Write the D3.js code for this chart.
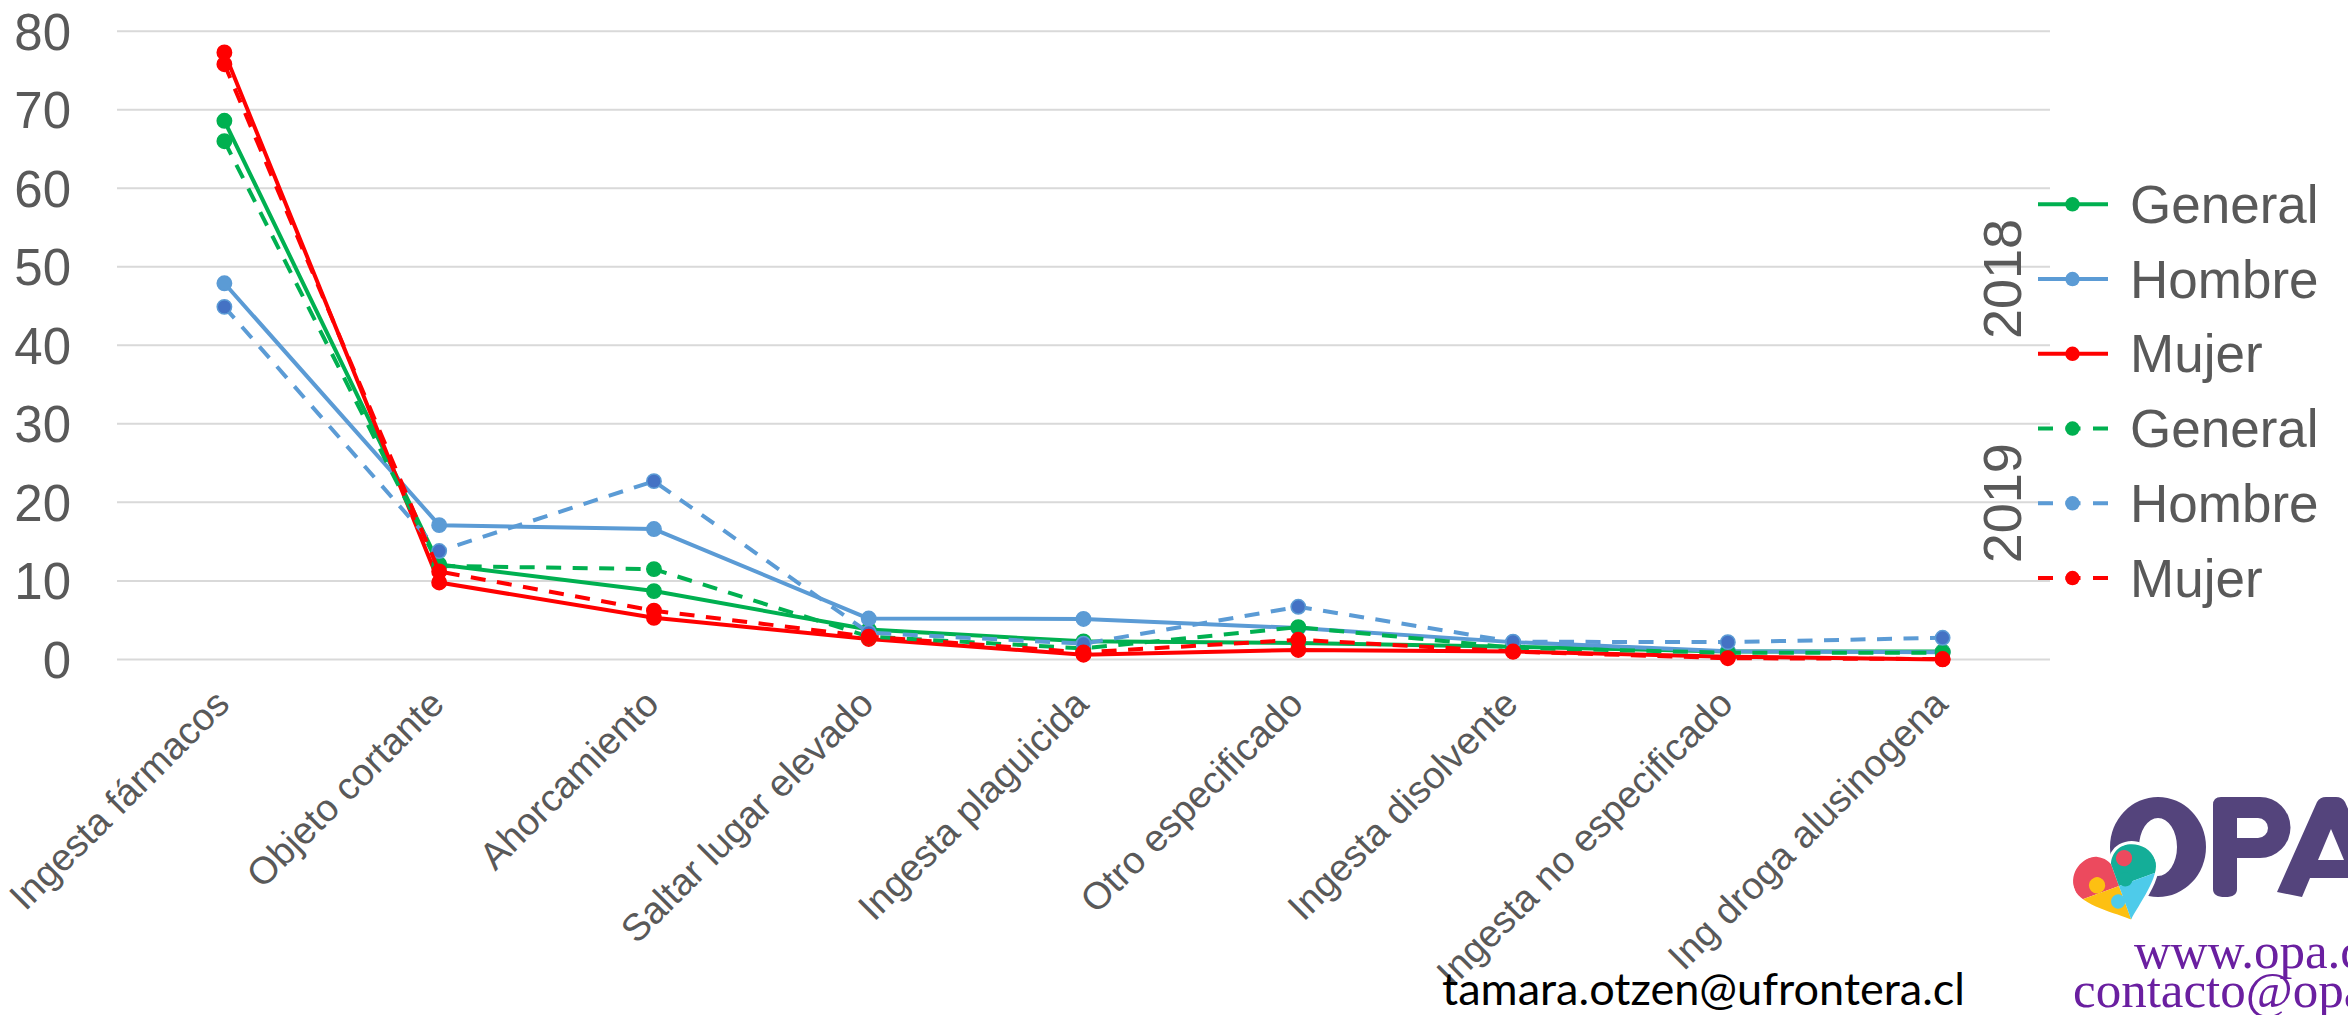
<!DOCTYPE html>
<html>
<head>
<meta charset="utf-8">
<script src="https://cdnjs.cloudflare.com/ajax/libs/d3/7.8.5/d3.min.js"></script>
<style>
  html, body { margin: 0; padding: 0; background: #ffffff; }
  svg { display: block; }
</style>
</head>
<body>
<div id="chart"></div>
<script>
// ---------------- DATA ----------------
const categories = [
  "Ingesta fármacos", "Objeto cortante", "Ahorcamiento", "Saltar lugar elevado",
  "Ingesta plaguicida", "Otro especificado", "Ingesta disolvente",
  "Ingesta no especificado", "Ing droga alusinogena"
];
const general2018 = [68.6, 12.1, 8.7, 3.8, 2.3, 2.1, 1.6, 1.0, 1.0];
const hombre2018  = [47.9, 17.1, 16.6, 5.2, 5.15, 4.0, 2.2, 1.05, 0.9];
const mujer2018   = [77.3, 9.8, 5.3, 2.6, 0.6, 1.2, 1.0, 0.35, 0.0];
const general2019 = [66.0, 11.9, 11.5, 2.9, 1.4, 4.1, 1.5, 0.85, 0.85];
const hombre2019  = [44.9, 13.8, 22.7, 3.4, 2.0, 6.7, 2.25, 2.2, 2.75];
const mujer2019   = [75.8, 11.2, 6.2, 2.9, 0.9, 2.5, 1.0, 0.15, 0.05];
const yTicks = [0, 10, 20, 30, 40, 50, 60, 70, 80];
const years = ["2018", "2019"];
const emailText = "tamara.otzen@ufrontera.cl";
const webText = "www.opa.cl";
const contactText = "contacto@opa.cl";

const colorGeneral = "#00B050", colorHombre = "#5B9BD5", colorMujer = "#FF0000";
const series = [
  { name: "General", year: "2018", values: general2018, color: colorGeneral, dashed: false },
  { name: "Hombre",  year: "2018", values: hombre2018,  color: colorHombre,  dashed: false },
  { name: "Mujer",   year: "2018", values: mujer2018,   color: colorMujer,   dashed: false },
  { name: "General", year: "2019", values: general2019, color: colorGeneral, dashed: true },
  { name: "Hombre",  year: "2019", values: hombre2019,  color: colorHombre,  dashed: true, markerFill: "#4472C4" },
  { name: "Mujer",   year: "2019", values: mujer2019,   color: colorMujer,   dashed: true }
];

// ---------------- LAYOUT ----------------
const W = 2348, H = 1015;
const svg = d3.select("#chart").append("svg").attr("width", W).attr("height", H);
svg.append("rect").attr("width", W).attr("height", H).attr("fill", "#ffffff");

const x = d3.scaleBand().domain(categories).range([117, 2050]).padding(0);
const y = d3.scaleLinear().domain([0, 80]).range([659.4, 31.25]);
const cx = c => x(c) + x.bandwidth() / 2;

const FONT = "'Liberation Sans', Arial, sans-serif";
const TXT = "#595959";

// gridlines
svg.append("g").selectAll("line").data(yTicks).join("line")
  .attr("x1", 117).attr("x2", 2050)
  .attr("y1", d => y(d)).attr("y2", d => y(d))
  .attr("stroke", "#D9D9D9").attr("stroke-width", 2);

// y axis labels
const yAxis = d3.axisLeft(y).tickValues(yTicks).tickSize(0).tickPadding(0);
const yg = svg.append("g").attr("transform", "translate(71,0)").call(yAxis);
yg.select(".domain").remove();
yg.selectAll("text").attr("font-family", FONT).attr("font-size", 51).attr("fill", TXT)
  .attr("dy", "0.35em").attr("text-anchor", "end").attr("x", 0);

// x labels
svg.append("g").selectAll("text").data(categories).join("text")
  .attr("transform", d => `translate(${cx(d) + 7},706) rotate(-45)`)
  .attr("text-anchor", "end")
  .attr("font-family", FONT).attr("font-size", 38).attr("fill", TXT)
  .text(d => d);

// lines
const line = d3.line().x((v, i) => cx(categories[i])).y(v => y(v));
const plot = svg.append("g");
series.forEach(s => {
  const g = plot.append("g");
  g.append("path").datum(s.values)
    .attr("d", line).attr("fill", "none")
    .attr("stroke", s.color).attr("stroke-width", 4)
    .attr("stroke-linejoin", "round")
    .attr("stroke-dasharray", s.dashed ? "15,11.5" : null);
  g.selectAll("circle").data(s.values).join("circle")
    .attr("cx", (v, i) => cx(categories[i])).attr("cy", v => y(v))
    .attr("r", 7.2).attr("fill", s.markerFill || s.color)
    .attr("stroke", s.color).attr("stroke-width", 1.5);
});

// legend
const legY0 = 204.3, legStep = 74.75;
const leg = svg.append("g");
series.forEach((s, i) => {
  const ly = legY0 + i * legStep;
  leg.append("line").attr("x1", 2038).attr("x2", 2108).attr("y1", ly).attr("y2", ly)
    .attr("stroke", s.color).attr("stroke-width", 4)
    .attr("stroke-dasharray", s.dashed ? "15,12.5" : null);
  leg.append("circle").attr("cx", 2072.5).attr("cy", ly).attr("r", 7.2).attr("fill", s.color);
  leg.append("text").attr("x", 2130).attr("y", ly).attr("dy", "0.35em")
    .attr("font-family", FONT).attr("font-size", 53).attr("fill", TXT).text(s.name);
});
years.forEach((yr, i) => {
  const cy = legY0 + (i * 3 + 1) * legStep;
  leg.append("text").attr("transform", `translate(2002,${cy}) rotate(-90)`)
    .attr("text-anchor", "middle").attr("dy", "0.35em")
    .attr("font-family", FONT).attr("font-size", 54).attr("fill", TXT).text(yr);
});

// footer email
svg.append("text").attr("x", 1442).attr("y", 1005)
  .attr("font-family", "Lato, 'Open Sans', sans-serif").attr("font-size", 44)
  .attr("textLength", 523).attr("lengthAdjust", "spacingAndGlyphs")
  .attr("fill", "#000000").text(emailText);

// ---------------- LOGO ----------------
const logo = svg.append("g");
const PURPLE = "#54447C";
// O
logo.append("path").attr("fill", PURPLE).attr("fill-rule", "evenodd")
  .attr("d", "M2110,847 a48,50 0 1,0 96,0 a48,50 0 1,0 -96,0 Z M2139,847 a19,29 0 1,0 38,0 a19,29 0 1,0 -38,0 Z");
// P
logo.append("path").attr("fill", PURPLE).attr("fill-rule", "evenodd")
  .attr("d", "M2213,889 L2213,805 Q2213,797 2221,797 L2260,797 A30.5,30.5 0 0 1 2260,858 L2237,858 L2237,889 Q2237,897 2225,897 Q2213,897 2213,889 Z M2237,818 L2258,818 A10,10 0 0 1 2258,838 L2237,838 Z");
// A
logo.append("path").attr("fill", PURPLE).attr("fill-rule", "evenodd")
  .attr("d", "M2277,892 L2317,802 Q2320,797 2326,797 L2336,797 Q2342,797 2345,802 L2385,892 L2360,897 L2352,878 L2310,878 L2302,897 Z M2318,860 L2344,860 L2331,829 Z");
// heart
const defs = svg.append("defs");
const heartD = "M0,35 C-10,25 -42,5 -42,-12 C-42,-30 -22,-40 -10,-34 C-4,-31 0,-25 0,-22 C0,-25 4,-31 10,-34 C22,-40 42,-30 42,-12 C42,5 10,25 0,35 Z";
defs.append("clipPath").attr("id", "heartClip").append("path").attr("d", heartD);
const heart = logo.append("g").attr("transform", "translate(2119,886) rotate(-20) scale(1.02)");
heart.append("path").attr("d", heartD).attr("fill", "#ffffff").attr("stroke", "#ffffff").attr("stroke-width", 6);
const hq = heart.append("g").attr("clip-path", "url(#heartClip)");
hq.append("rect").attr("x", -45).attr("y", -45).attr("width", 45).attr("height", 45).attr("fill", "#EC4A5E");
hq.append("rect").attr("x", 0).attr("y", -45).attr("width", 45).attr("height", 45).attr("fill", "#14AE98");
hq.append("rect").attr("x", -45).attr("y", 0).attr("width", 45).attr("height", 45).attr("fill", "#FDC012");
hq.append("rect").attr("x", 0).attr("y", 0).attr("width", 45).attr("height", 45).attr("fill", "#4ECBEA");
hq.append("circle").attr("cx", -20).attr("cy", -8).attr("r", 8).attr("fill", "#FDC012");
hq.append("circle").attr("cx", 14).attr("cy", -24).attr("r", 8).attr("fill", "#EC4A5E");
hq.append("circle").attr("cx", -6).attr("cy", 14).attr("r", 7).attr("fill", "#4ECBEA");
hq.append("circle").attr("cx", 8).attr("cy", -4).attr("r", 7).attr("fill", "#14AE98");

logo.append("text").attr("x", 2134).attr("y", 968)
  .attr("font-family", "'Liberation Serif', 'DejaVu Serif', serif").attr("font-size", 51)
  .attr("fill", "#6A1FA0").text(webText);
logo.append("text").attr("x", 2073).attr("y", 1007)
  .attr("font-family", "'Liberation Serif', 'DejaVu Serif', serif").attr("font-size", 51)
  .attr("fill", "#6A1FA0").text(contactText);
</script>
</body>
</html>
